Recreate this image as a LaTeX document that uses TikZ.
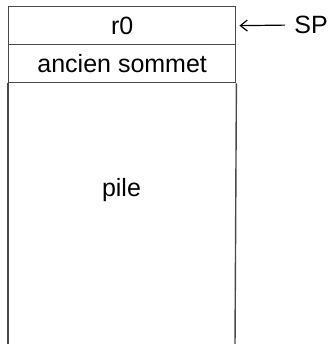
\documentclass[tikz,border=0pt]{standalone}
\usepackage{fontspec}
\setmainfont{Liberation Sans}
\usetikzlibrary{arrows.meta}
\definecolor{linegray}{HTML}{4A4A4A}
\begin{document}
\begin{tikzpicture}[x=1pt,y=-1pt,
  font=\fontsize{25}{29}\selectfont,
  cell/.style={draw=linegray, line width=1.4pt, minimum width=227pt, minimum height=38pt, inner sep=0pt, anchor=north west},
  side/.style={draw=linegray, line width=1.4pt},
  pointer/.style={draw=black, line width=1.2pt, -{Straight Barb[length=7pt,width=11pt]}, shorten <=9pt, shorten >=3pt}]
\useasboundingbox (0,0) rectangle (329,344);
\node[cell] (r0) at (8,6) {r0};
\node[cell] (anc) at (8,44) {ancien sommet};
\node (pile) at (121.5,190) {pile};
\coordinate (bl) at (8,346);
\coordinate (br) at (235,346);
\draw[side] (anc.south west) -- (bl);
\draw[side] (anc.south east) -- (br);
\node[inner sep=0pt] (sp) at (311,25) {SP};
\draw[pointer] (sp.west) -- (r0.east);
\end{tikzpicture}
\end{document}
